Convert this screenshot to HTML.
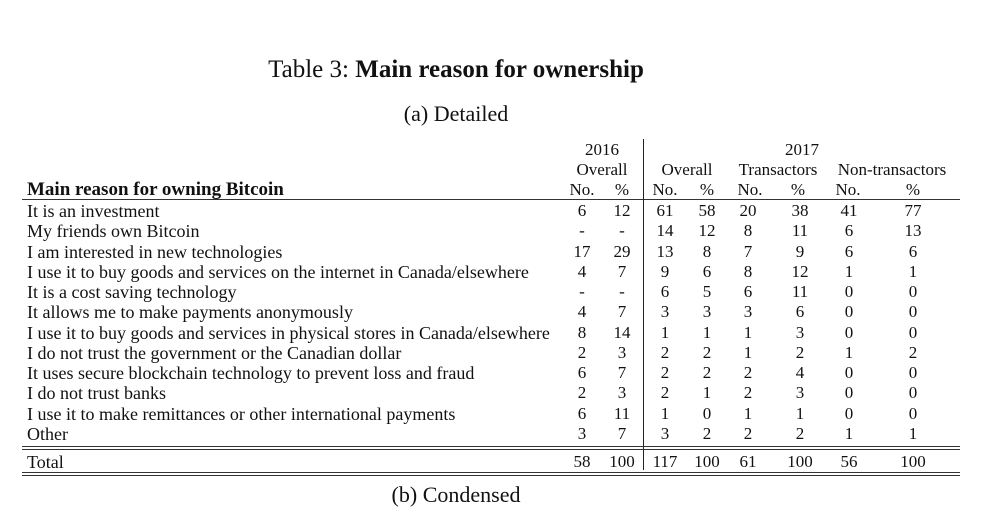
<!DOCTYPE html>
<html><head><meta charset="utf-8"><style>
body{margin:0;background:#fff;width:993px;height:485px;overflow:hidden;position:relative;font-family:"Liberation Serif",serif;color:#111}
.t{position:absolute;white-space:nowrap;font-size:18px;line-height:18px}
.c{position:absolute;white-space:nowrap;font-size:17px;line-height:18px;transform:translateX(-50%)}
.h{position:absolute;left:22px;width:938px;background:#333}
</style></head><body>
<div class="c" style="left:456px;top:57px;font-size:25px;line-height:26px">Table 3: <b>Main reason for ownership</b></div>
<div class="c" style="left:456px;top:103px;font-size:22px;line-height:22px">(a) Detailed</div>
<div class="c" style="left:602px;top:141px">2016</div>
<div class="c" style="left:802px;top:141px">2017</div>
<div class="c" style="left:602px;top:161px">Overall</div>
<div class="c" style="left:687px;top:161px">Overall</div>
<div class="c" style="left:778px;top:161px">Transactors</div>
<div class="c" style="left:892px;top:161px">Non-transactors</div>
<div class="t" style="left:27px;top:181px;font-weight:bold;font-size:19px">Main reason for owning Bitcoin</div>
<div class="c" style="left:582px;top:181px">No.</div><div class="c" style="left:622px;top:181px">%</div>
<div class="c" style="left:665px;top:181px">No.</div><div class="c" style="left:707px;top:181px">%</div>
<div class="c" style="left:750px;top:181px">No.</div><div class="c" style="left:798px;top:181px">%</div>
<div class="c" style="left:848px;top:181px">No.</div><div class="c" style="left:913px;top:181px">%</div>
<div class="h" style="top:199px;height:1px"></div>
<div style="position:absolute;left:643px;top:139px;width:1px;height:331px;background:#222"></div>
<div class="h" style="top:446px;height:1px"></div><div class="h" style="top:449px;height:1px"></div>
<div class="h" style="top:472px;height:1px"></div><div class="h" style="top:475px;height:1px"></div>
<div id="rows"></div>
<div class="c" style="left:456px;top:484px;font-size:22px;line-height:22px">(b) Condensed</div>
<script>
var d=[["It is an investment","6","12","61","58","20","38","41","77"],
["My friends own Bitcoin","-","-","14","12","8","11","6","13"],
["I am interested in new technologies","17","29","13","8","7","9","6","6"],
["I use it to buy goods and services on the internet in Canada/elsewhere","4","7","9","6","8","12","1","1"],
["It is a cost saving technology","-","-","6","5","6","11","0","0"],
["It allows me to make payments anonymously","4","7","3","3","3","6","0","0"],
["I use it to buy goods and services in physical stores in Canada/elsewhere","8","14","1","1","1","3","0","0"],
["I do not trust the government or the Canadian dollar","2","3","2","2","1","2","1","2"],
["It uses secure blockchain technology to prevent loss and fraud","6","7","2","2","2","4","0","0"],
["I do not trust banks","2","3","2","1","2","3","0","0"],
["I use it to make remittances or other international payments","6","11","1","0","1","1","0","0"],
["Other","3","7","3","2","2","2","1","1"]];
var xs=[582,622,665,707,748,800,849,913],h="";
function row(r,top){h+='<div class="t" style="left:27px;top:'+top+'px">'+r[0]+'</div>';
for(var i=1;i<9;i++)h+='<div class="c" style="left:'+xs[i-1]+'px;top:'+top+'px">'+r[i]+'</div>';}
d.forEach(function(r,i){row(r,Math.round(202+i*20.27));});
row(["Total","58","100","117","100","61","100","56","100"],453);
document.getElementById("rows").innerHTML=h;
</script>
</body></html>
